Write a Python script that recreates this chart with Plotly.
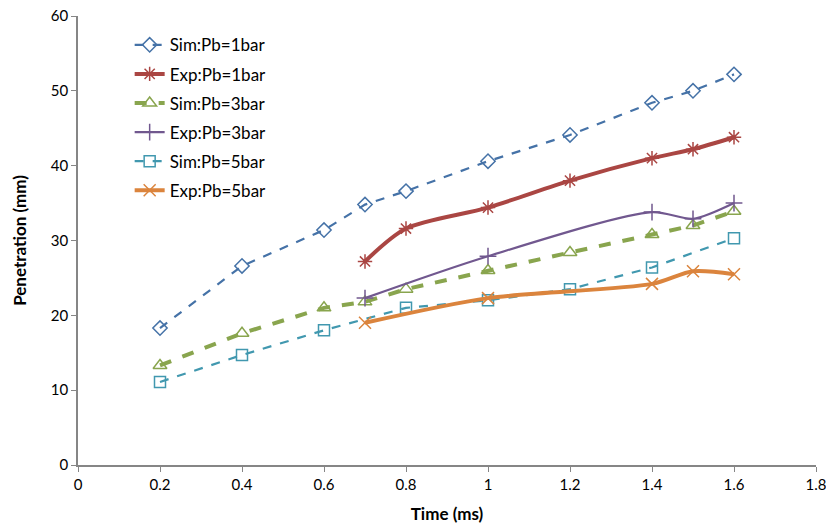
import plotly.graph_objects as go

# Spray penetration vs time for three back pressures (simulation and experiment)
t_sim = [0.2, 0.4, 0.6, 0.7, 0.8, 1.0, 1.2, 1.4, 1.5, 1.6]
sim_1bar = [18.3, 26.6, 31.4, 34.8, 36.6, 40.6, 44.1, 48.4, 50.0, 52.2]
sim_3bar = [13.3, 17.6, 21.0, 21.8, 23.5, 26.0, 28.4, 30.8, 32.0, 33.9]

t_sim5 = [0.2, 0.4, 0.6, 0.8, 1.0, 1.2, 1.4, 1.6]
sim_5bar = [11.1, 14.7, 18.0, 21.0, 22.0, 23.5, 26.4, 30.3]

t_exp1 = [0.7, 0.8, 1.0, 1.2, 1.4, 1.5, 1.6]
exp_1bar = [27.2, 31.6, 34.4, 38.0, 41.0, 42.2, 43.8]

t_exp = [0.7, 1.0, 1.4, 1.5, 1.6]
exp_3bar = [22.3, 27.9, 33.8, 32.9, 35.0]
exp_5bar = [19.0, 22.3, 24.2, 25.9, 25.5]

x_ticks = [0, 0.2, 0.4, 0.6, 0.8, 1, 1.2, 1.4, 1.6, 1.8]
y_ticks = [0, 10, 20, 30, 40, 50, 60]

FONT = "Lato, 'Open Sans', sans-serif"

series = [
    dict(name="Sim:Pb=1bar", x=t_sim, y=sim_1bar, color="#4572A7", width=2.2,
         dash="dash", symbol="diamond-open", size=11, shape="linear"),
    dict(name="Exp:Pb=1bar", x=t_exp1, y=exp_1bar, color="#AA4643", width=4,
         dash="solid", symbol="asterisk-open", size=12, shape="spline"),
    dict(name="Sim:Pb=3bar", x=t_sim, y=sim_3bar, color="#89A54E", width=4,
         dash="dash", symbol="triangle-up-open", size=12, shape="linear"),
    dict(name="Exp:Pb=3bar", x=t_exp, y=exp_3bar, color="#71588F", width=2.2,
         dash="solid", symbol="cross-thin-open", size=12, shape="spline"),
    dict(name="Sim:Pb=5bar", x=t_sim5, y=sim_5bar, color="#4198AF", width=2.2,
         dash="dash", symbol="square-open", size=11, shape="linear"),
    dict(name="Exp:Pb=5bar", x=t_exp, y=exp_5bar, color="#DB843D", width=4,
         dash="solid", symbol="x-thin-open", size=12, shape="spline"),
]

fig = go.Figure()
for s in series:
    fig.add_trace(go.Scatter(
        x=s["x"], y=s["y"], name=s["name"], mode="lines+markers",
        legendgroup=s["name"],
        line=dict(color=s["color"], width=s["width"], dash=s["dash"],
                  shape=s["shape"], smoothing=0.8),
        marker=dict(symbol=s["symbol"], size=s["size"], color=s["color"],
                    line=dict(color=s["color"], width=1.5)),
    ))

axis_common = dict(
    showgrid=False, zeroline=False, showline=True, linecolor="#868686",
    linewidth=1.5, ticks="outside", tickcolor="#868686", ticklen=5,
    tickfont=dict(family=FONT, size=15, color="#000000"),
    mirror=False, automargin=False, ticklabeloverflow="allow",
)

fig.update_layout(
    width=826, height=526,
    margin=dict(l=78, r=10, t=16, b=61),
    paper_bgcolor="white", plot_bgcolor="white",
    font=dict(family=FONT, color="#000000"),
    showlegend=True,
    legend=dict(
        x=0.07, y=0.975, xanchor="left", yanchor="top",
        font=dict(family=FONT, size=17, color="#000000"),
        bgcolor="rgba(0,0,0,0)", traceorder="grouped", tracegroupgap=4,
    ),
    xaxis=dict(
        range=[0, 1.8], tickvals=x_ticks,
        ticktext=[f"{v:g}" for v in x_ticks],
        title=dict(text="<b>Time (ms)</b>", font=dict(family=FONT, size=17),
                   standoff=16),
        **axis_common,
    ),
    yaxis=dict(
        range=[0, 60], tickvals=y_ticks,
        title=dict(text="<b>Penetration (mm)</b>", font=dict(family=FONT, size=17),
                   standoff=20),
        **axis_common,
    ),
)

fig.write_html("out.html")
